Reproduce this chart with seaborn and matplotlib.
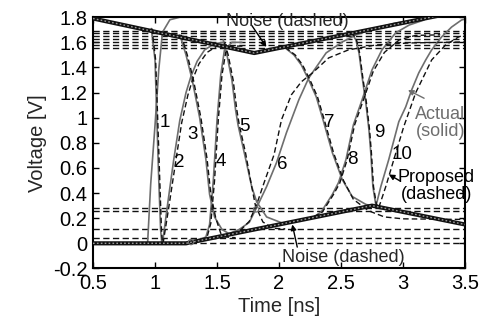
import matplotlib
matplotlib.use("Agg")
import matplotlib.pyplot as plt
import seaborn as sns

# ---------------- data ----------------
x_ticks = [0.5, 1, 1.5, 2, 2.5, 3, 3.5]
x_tick_labels = ["0.5", "1", "1.5", "2", "2.5", "3", "3.5"]
y_ticks = [-0.2, 0, 0.2, 0.4, 0.6, 0.8, 1, 1.2, 1.4, 1.6, 1.8]
y_tick_labels = ["-0.2", "0", "0.2", "0.4", "0.6", "0.8", "1", "1.2", "1.4", "1.6", "1.8"]

# noise envelopes (thick)
env_hi_t = [0.5, 1.8, 3.5]
env_hi_v = [1.79, 1.515, 1.855]
env_lo_t = [0.5, 1.25, 2.75, 3.5]
env_lo_v = [0.0, 0.0, 0.30, 0.15]

# dashed noise levels (horizontal)
noise_hi_levels = [1.69, 1.672, 1.651, 1.627, 1.601, 1.579, 1.558]
noise_lo_levels = [0.278, 0.257, 0.115, 0.045, 0.005]

# input edge (solid only)
in_t = [0.5, 0.94, 0.965, 1.0, 1.03, 1.06, 1.12, 1.2, 1.36]
in_v = [0.0, 0.0, 0.47, 0.94, 1.38, 1.68, 1.78, 1.80, 1.80]

# transitions 1..10 : actual (solid) and proposed (dashed)
c1_t = [0.97, 1.0, 1.015, 1.03, 1.045, 1.055, 1.08]
c1_v = [1.71, 1.46, 0.98, 0.51, 0.11, 0.0, 0.0]
c1d_t = [0.975, 1.005, 1.022, 1.038, 1.052, 1.06, 1.09]
c1d_v = [1.71, 1.46, 0.98, 0.51, 0.11, 0.0, 0.0]

c2_t = [1.06, 1.10, 1.15, 1.20, 1.25, 1.29, 1.34, 1.40, 1.48, 1.56]
c2_v = [0.0, 0.30, 0.66, 0.98, 1.20, 1.33, 1.45, 1.54, 1.59, 1.60]
c2d_t = [1.065, 1.11, 1.165, 1.215, 1.265, 1.305, 1.355, 1.42, 1.50, 1.58]
c2d_v = [0.0, 0.28, 0.64, 0.96, 1.18, 1.31, 1.43, 1.52, 1.57, 1.58]

c3_t = [1.20, 1.25, 1.30, 1.36, 1.41, 1.44, 1.48, 1.54, 1.60, 1.70]
c3_v = [1.66, 1.50, 1.30, 1.00, 0.67, 0.39, 0.21, 0.11, 0.075, 0.094]
c3d_t = [1.21, 1.26, 1.31, 1.37, 1.42, 1.45, 1.49, 1.53, 1.58, 1.65]
c3d_v = [1.66, 1.50, 1.30, 1.00, 0.67, 0.39, 0.20, 0.08, 0.05, 0.045]

c4_t = [1.30, 1.36, 1.41, 1.44, 1.47, 1.50, 1.53, 1.56, 1.62, 1.70]
c4_v = [0.02, 0.03, 0.05, 0.15, 0.50, 0.98, 1.34, 1.54, 1.60, 1.60]
c4d_t = [1.30, 1.37, 1.42, 1.45, 1.48, 1.51, 1.54, 1.57, 1.63, 1.72]
c4d_v = [0.02, 0.02, 0.05, 0.16, 0.50, 0.98, 1.34, 1.52, 1.57, 1.57]

c5_t = [1.55, 1.58, 1.62, 1.65, 1.67, 1.72, 1.78, 1.82, 1.90, 2.03, 2.15]
c5_v = [1.62, 1.50, 1.30, 1.06, 0.94, 0.72, 0.45, 0.33, 0.21, 0.16, 0.18]
c5d_t = [1.56, 1.59, 1.63, 1.66, 1.68, 1.73, 1.78, 1.81, 1.87, 1.95, 2.05]
c5d_v = [1.60, 1.50, 1.30, 1.06, 0.94, 0.72, 0.45, 0.30, 0.17, 0.12, 0.115]

c6_t = [1.56, 1.68, 1.76, 1.82, 1.90, 1.98, 2.06, 2.16, 2.24, 2.38, 2.51, 2.62, 2.78, 2.94, 3.13]
c6_v = [0.063, 0.111, 0.167, 0.286, 0.452, 0.643, 0.881, 1.143, 1.317, 1.516, 1.603, 1.659, 1.714, 1.754, 1.778]
c6d_t = [1.56, 1.68, 1.76, 1.82, 1.88, 1.96, 2.02, 2.10, 2.18, 2.27, 2.40, 2.56, 2.78, 3.05, 3.49]
c6d_v = [0.048, 0.095, 0.175, 0.31, 0.484, 0.706, 0.984, 1.183, 1.286, 1.357, 1.476, 1.54, 1.579, 1.595, 1.603]

c7_t = [2.04, 2.12, 2.18, 2.24, 2.30, 2.35, 2.43, 2.51, 2.59, 2.70, 2.77]
c7_v = [1.563, 1.50, 1.42, 1.30, 1.167, 1.0, 0.722, 0.508, 0.373, 0.31, 0.294]
c7d_t = [2.05, 2.13, 2.19, 2.25, 2.31, 2.36, 2.44, 2.52, 2.60, 2.72, 2.85, 3.0, 3.5]
c7d_v = [1.56, 1.50, 1.42, 1.30, 1.167, 1.0, 0.72, 0.50, 0.35, 0.26, 0.21, 0.195, 0.19]

c8_t = [2.28, 2.34, 2.43, 2.48, 2.54, 2.60, 2.67, 2.75, 2.83, 2.94, 3.05, 3.17]
c8_v = [0.21, 0.25, 0.389, 0.484, 0.667, 0.944, 1.143, 1.381, 1.54, 1.675, 1.738, 1.778]
c8d_t = [2.28, 2.35, 2.44, 2.49, 2.55, 2.61, 2.68, 2.76, 2.85, 2.97, 3.10, 3.30]
c8d_v = [0.21, 0.25, 0.39, 0.48, 0.667, 0.944, 1.14, 1.37, 1.52, 1.62, 1.655, 1.66]

c9_t = [2.58, 2.62, 2.645, 2.67, 2.70, 2.725, 2.74, 2.757, 2.78, 2.805]
c9_v = [1.683, 1.619, 1.516, 1.325, 1.119, 0.905, 0.722, 0.452, 0.31, 0.286]
c9d_t = [2.585, 2.625, 2.65, 2.675, 2.705, 2.73, 2.745, 2.762, 2.785, 2.81]
c9d_v = [1.683, 1.619, 1.516, 1.325, 1.119, 0.905, 0.722, 0.452, 0.31, 0.286]

c10_t = [2.781, 2.821, 2.885, 2.966, 3.022, 3.070, 3.127, 3.183, 3.231, 3.311, 3.392, 3.472, 3.5]
c10_v = [0.294, 0.452, 0.667, 0.968, 1.087, 1.222, 1.357, 1.46, 1.54, 1.643, 1.722, 1.778, 1.785]
c10d_t = [2.805, 2.861, 2.926, 3.006, 3.102, 3.231, 3.343, 3.448, 3.5]
c10d_v = [0.286, 0.452, 0.667, 0.929, 1.198, 1.46, 1.579, 1.643, 1.66]

curve_labels = ["1", "2", "3", "4", "5", "6", "7", "8", "9", "10"]
label_t = [1.078, 1.199, 1.305, 1.534, 1.721, 2.029, 2.404, 2.591, 2.805, 2.99]
label_v = [0.96, 0.64, 0.865, 0.653, 0.93, 0.627, 0.958, 0.667, 0.879, 0.706]

cross_t = [1.29, 1.815]
cross_v = [0.01, 0.27]

# ---------------- drawing ----------------
sns.set_style("ticks")
plt.rcParams["font.family"] = ["Liberation Sans", "DejaVu Sans"]

fig = plt.figure(figsize=(4.85, 3.25), dpi=100)
ax = fig.add_axes([0.1918, 0.174, 0.7670, 0.773])

SOLID = "#6e6e6e"
DASH = "#111111"


def line(t, v, color, lw, ls="-", dashes=None, z=2):
    l = sns.lineplot(x=t, y=v, ax=ax, sort=False, estimator=None, color=color,
                     lw=lw, linestyle=ls, zorder=z)
    if dashes is not None:
        l.lines[-1].set_dashes(dashes)


# horizontal dashed noise levels
for lev in noise_hi_levels + noise_lo_levels:
    line([0.5, 3.5], [lev, lev], DASH, 1.0, dashes=(4.5, 2.5), z=1)

# envelopes
for et, ev in ((env_hi_t, env_hi_v), (env_lo_t, env_lo_v)):
    line(et, ev, "#111111", 3.0, z=3)
    line(et, ev, "#9a9a9a", 1.0, dashes=(1.2, 1.6), z=4)

line(in_t, in_v, SOLID, 1.2)

solids = [(c1_t, c1_v), (c2_t, c2_v), (c3_t, c3_v), (c4_t, c4_v), (c5_t, c5_v),
          (c6_t, c6_v), (c7_t, c7_v), (c8_t, c8_v), (c9_t, c9_v), (c10_t, c10_v)]
dasheds = [(c1d_t, c1d_v), (c2d_t, c2d_v), (c3d_t, c3d_v), (c4d_t, c4d_v), (c5d_t, c5d_v),
           (c6d_t, c6d_v), (c7d_t, c7d_v), (c8d_t, c8d_v), (c9d_t, c9d_v), (c10d_t, c10d_v)]
for t, v in solids:
    line(t, v, SOLID, 1.2, z=2)
for t, v in dasheds:
    line(t, v, DASH, 1.0, dashes=(4, 2.2), z=2)

ax.scatter(cross_t, cross_v, s=14, facecolors="none", edgecolors=SOLID, lw=0.9, zorder=5)

for s, tt, vv in zip(curve_labels, label_t, label_v):
    ax.text(tt, vv, s, fontsize=13.5, ha="center", va="center", color="black", zorder=6)

arrow_k = dict(arrowstyle="-|>", lw=1.0, mutation_scale=8, shrinkA=0, shrinkB=0)

# annotations
ax.text(2.066, 1.762, "Noise (dashed)", fontsize=13, ha="center", va="center", zorder=6)
ax.annotate("", xy=(1.898, 1.563), xytext=(1.78, 1.735),
            arrowprops=dict(color="black", **arrow_k))
ax.text(2.516, -0.111, "Noise (dashed)", fontsize=13, ha="center", va="center", zorder=6)
ax.annotate("", xy=(2.107, 0.15), xytext=(2.147, -0.03),
            arrowprops=dict(color="black", **arrow_k))
ax.text(3.30, 0.96, "Actual\n(solid)", fontsize=13, ha="center", va="center",
        color="#6e6e6e", linespacing=1.0, zorder=6, clip_on=False)
ax.annotate("", xy=(3.04, 1.22), xytext=(3.17, 1.155),
            arrowprops=dict(color="#6e6e6e", **arrow_k))
ax.text(3.27, 0.455, "Proposed\n(dashed)", fontsize=13, ha="center", va="center",
        color="black", linespacing=1.0, zorder=6, clip_on=False)
ax.annotate("", xy=(2.886, 0.548), xytext=(2.97, 0.50),
            arrowprops=dict(color="black", **arrow_k))

ax.set_xlim(0.5, 3.5)
ax.set_ylim(-0.2, 1.8)
ax.set_xticks(x_ticks)
ax.set_xticklabels(x_tick_labels)
ax.set_yticks(y_ticks)
ax.set_yticklabels(y_tick_labels)
ax.tick_params(direction="in", top=True, right=True, length=4, width=1.0,
               labelsize=14.5, colors="black", pad=4)
for sp in ax.spines.values():
    sp.set_linewidth(1.5)
    sp.set_color("black")
ax.set_xlabel("Time [ns]", fontsize=14.5, labelpad=3)
ax.set_ylabel("Voltage [V]", fontsize=14.5, labelpad=4)

fig.savefig("out.png", dpi=100, facecolor="white")
